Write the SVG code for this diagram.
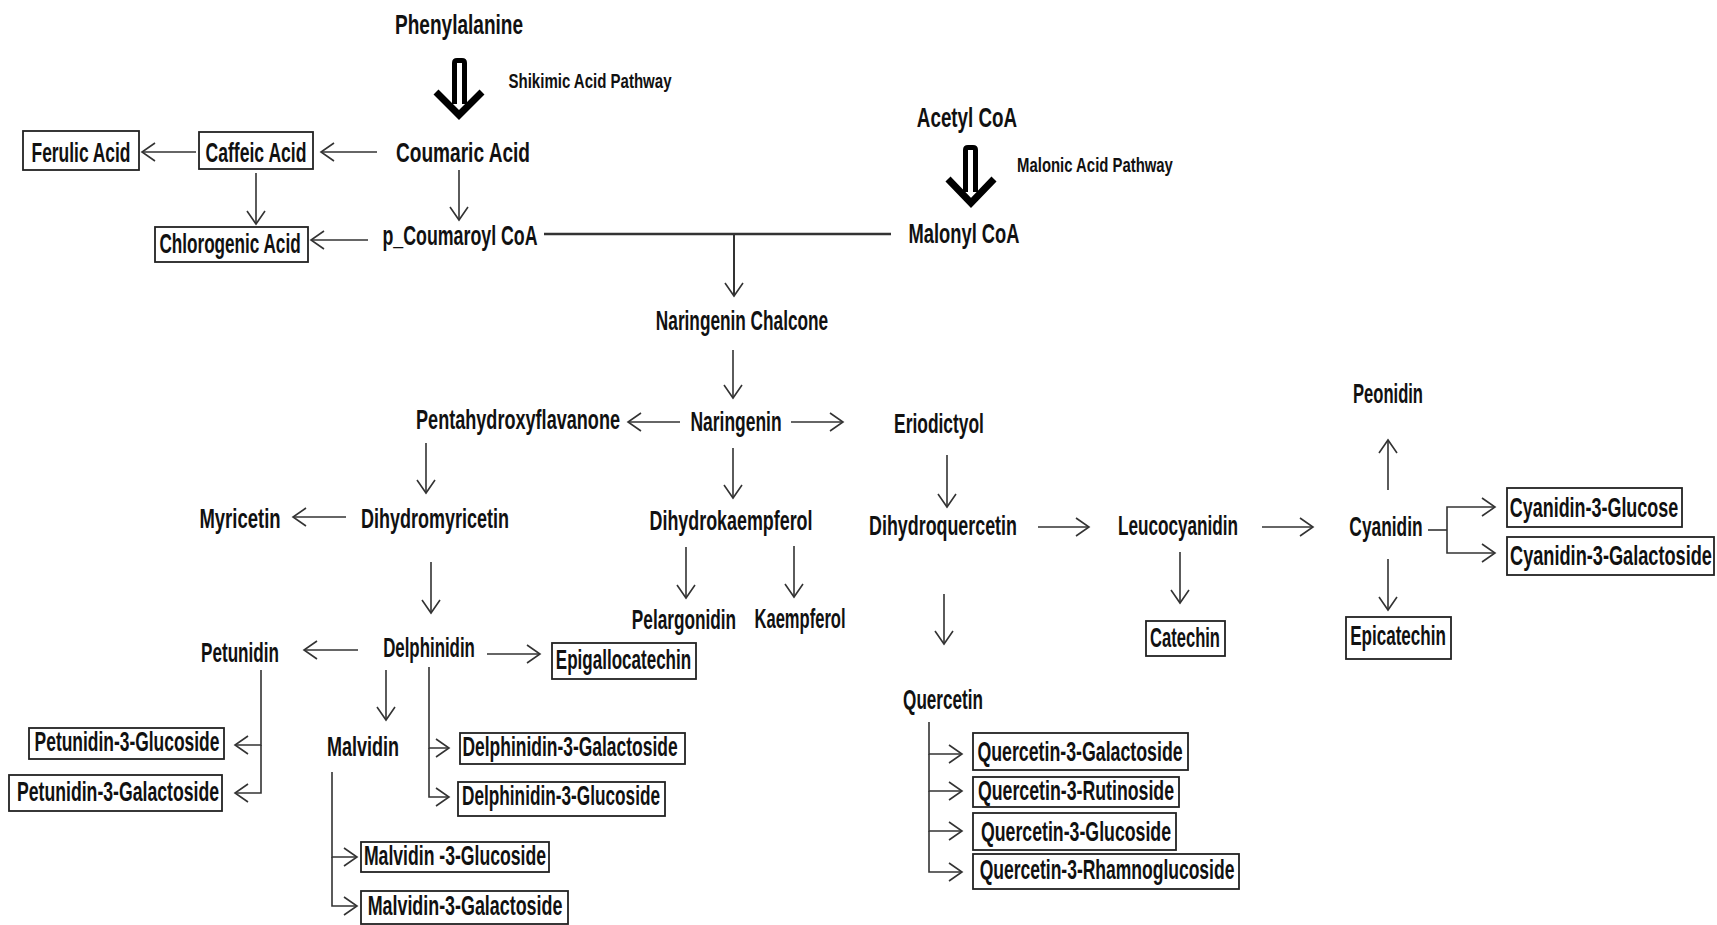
<svg xmlns="http://www.w3.org/2000/svg" width="1717" height="925" viewBox="0 0 1717 925">
<style>
.t{font-family:"Liberation Sans",Arial,sans-serif;font-weight:bold;font-size:28px;fill:#111;text-anchor:middle}
.s{font-size:20px}
.b{fill:#fff;stroke:#222;stroke-width:1.8}
.c{fill:none;stroke:#333;stroke-width:1.6}
.c path{marker-end:url(#ah)}
.thick{fill:none;stroke:#000;stroke-linecap:butt}
</style>
<defs>
<marker id="ah" viewBox="-15 -11 17 22" refX="0" refY="0" markerWidth="17" markerHeight="22" markerUnits="userSpaceOnUse" orient="auto">
<path d="M-13,-9 L0,0 L-13,9" fill="none" stroke="#333" stroke-width="1.6"/>
</marker>
</defs>
<rect width="1717" height="925" fill="#fff"/>

<g id="connectors" class="c">
<path d="M377,152 H321"/>
<path d="M196,152 H142"/>
<path d="M256,173 V224"/>
<path d="M459,170 V220"/>
<path d="M368,240 H311"/>
<path d="M544,234 H891" style="marker-end:none;stroke-width:2.6"/>
<path d="M734,234 V296" style="stroke-width:2"/>
<path d="M733,350 V398"/>
<path d="M680,422 H628"/>
<path d="M791,422 H843"/>
<path d="M733,448 V498"/>
<path d="M426,443 V493"/>
<path d="M346,517 H293"/>
<path d="M431,562 V613"/>
<path d="M686,547 V598"/>
<path d="M794,546 V597"/>
<path d="M358,650 H304"/>
<path d="M487,654 H540"/>
<path d="M386,670 V720"/>
<path d="M429,667 V748 H449"/>
<path d="M429,748 V797 H449"/>
<path d="M261,670 V745 H235"/>
<path d="M261,745 V793 H235"/>
<path d="M332,772 V857 H357"/>
<path d="M332,857 V906 H357"/>
<path d="M947,455 V507"/>
<path d="M1038,527 H1089"/>
<path d="M1262,527 H1313"/>
<path d="M1180,552 V603"/>
<path d="M1388,490 V440"/>
<path d="M1388,559 V610"/>
<path d="M1428,530 H1447" style="marker-end:none"/>
<path d="M1447,530 V507 H1495"/>
<path d="M1447,530 V553 H1495"/>
<path d="M944,594 V644"/>
<path d="M929,722 V754 H962"/>
<path d="M929,754 V791 H962"/>
<path d="M929,791 V831 H962"/>
<path d="M929,831 V872 H962"/>
</g>

<g id="shikimic-arrow" class="thick">
<path d="M454.5,104 V63 Q454.5,60.5 457,60.5 H462 Q464.5,60.5 464.5,63 V104" stroke-width="5"/>
<path d="M436,92 L459,115 L482,92" stroke-width="7"/>
</g>
<g id="malonic-arrow" class="thick">
<path d="M965.5,192 V150 Q965.5,147.5 968,147.5 H973 Q975.5,147.5 975.5,150 V192" stroke-width="5"/>
<path d="M948,179 L971,203 L994,179" stroke-width="7"/>
</g>

<g id="phenylalanine"><text class="t" transform="translate(459,34) scale(0.66,1)" textLength="194" lengthAdjust="spacingAndGlyphs">Phenylalanine</text></g>
<g id="shikimic-label"><text class="t s" transform="translate(590,88) scale(0.66,1)" textLength="247" lengthAdjust="spacingAndGlyphs">Shikimic Acid Pathway</text></g>
<g id="coumaric-acid"><text class="t" transform="translate(463,162) scale(0.66,1)" textLength="203" lengthAdjust="spacingAndGlyphs">Coumaric Acid</text></g>
<g id="caffeic-acid"><rect class="b" x="199" y="132" width="114" height="37"/><text class="t" transform="translate(256,162) scale(0.66,1)" textLength="153" lengthAdjust="spacingAndGlyphs">Caffeic Acid</text></g>
<g id="ferulic-acid"><rect class="b" x="23" y="131" width="116" height="39"/><text class="t" transform="translate(81,162) scale(0.66,1)" textLength="150" lengthAdjust="spacingAndGlyphs">Ferulic Acid</text></g>
<g id="chlorogenic-acid"><rect class="b" x="155" y="227" width="153" height="35"/><text class="t" transform="translate(230,253) scale(0.66,1)" textLength="214" lengthAdjust="spacingAndGlyphs">Chlorogenic Acid</text></g>
<g id="p-coumaroyl-coa"><text class="t" transform="translate(460,245) scale(0.66,1)" textLength="235" lengthAdjust="spacingAndGlyphs">p_Coumaroyl CoA</text></g>
<g id="acetyl-coa"><text class="t" transform="translate(967,127) scale(0.66,1)" textLength="152" lengthAdjust="spacingAndGlyphs">Acetyl CoA</text></g>
<g id="malonic-label"><text class="t s" transform="translate(1095,172) scale(0.66,1)" textLength="236" lengthAdjust="spacingAndGlyphs">Malonic Acid Pathway</text></g>
<g id="malonyl-coa"><text class="t" transform="translate(964,243) scale(0.66,1)" textLength="168" lengthAdjust="spacingAndGlyphs">Malonyl CoA</text></g>
<g id="naringenin-chalcone"><text class="t" transform="translate(742,330) scale(0.66,1)" textLength="261" lengthAdjust="spacingAndGlyphs">Naringenin Chalcone</text></g>
<g id="naringenin"><text class="t" transform="translate(736,431) scale(0.66,1)" textLength="138" lengthAdjust="spacingAndGlyphs">Naringenin</text></g>
<g id="pentahydroxyflavanone"><text class="t" transform="translate(518,429) scale(0.66,1)" textLength="309" lengthAdjust="spacingAndGlyphs">Pentahydroxyflavanone</text></g>
<g id="eriodictyol"><text class="t" transform="translate(939,433) scale(0.66,1)" textLength="136" lengthAdjust="spacingAndGlyphs">Eriodictyol</text></g>
<g id="dihydromyricetin"><text class="t" transform="translate(435,528) scale(0.66,1)" textLength="224" lengthAdjust="spacingAndGlyphs">Dihydromyricetin</text></g>
<g id="myricetin"><text class="t" transform="translate(240,528) scale(0.66,1)" textLength="123" lengthAdjust="spacingAndGlyphs">Myricetin</text></g>
<g id="dihydrokaempferol"><text class="t" transform="translate(731,530) scale(0.66,1)" textLength="247" lengthAdjust="spacingAndGlyphs">Dihydrokaempferol</text></g>
<g id="pelargonidin"><text class="t" transform="translate(684,629) scale(0.66,1)" textLength="158" lengthAdjust="spacingAndGlyphs">Pelargonidin</text></g>
<g id="kaempferol"><text class="t" transform="translate(800,628) scale(0.66,1)" textLength="138" lengthAdjust="spacingAndGlyphs">Kaempferol</text></g>
<g id="dihydroquercetin"><text class="t" transform="translate(943,535) scale(0.66,1)" textLength="224" lengthAdjust="spacingAndGlyphs">Dihydroquercetin</text></g>
<g id="leucocyanidin"><text class="t" transform="translate(1178,535) scale(0.66,1)" textLength="182" lengthAdjust="spacingAndGlyphs">Leucocyanidin</text></g>
<g id="cyanidin"><text class="t" transform="translate(1386,536) scale(0.66,1)" textLength="111" lengthAdjust="spacingAndGlyphs">Cyanidin</text></g>
<g id="peonidin"><text class="t" transform="translate(1388,403) scale(0.66,1)" textLength="106" lengthAdjust="spacingAndGlyphs">Peonidin</text></g>
<g id="catechin"><rect class="b" x="1146" y="621" width="79" height="35"/><text class="t" transform="translate(1185,647) scale(0.66,1)" textLength="106" lengthAdjust="spacingAndGlyphs">Catechin</text></g>
<g id="epicatechin"><rect class="b" x="1346" y="617" width="105" height="42"/><text class="t" transform="translate(1398,645) scale(0.66,1)" textLength="145" lengthAdjust="spacingAndGlyphs">Epicatechin</text></g>
<g id="cyanidin-3-glucose"><rect class="b" x="1507" y="488" width="175" height="39"/><text class="t" transform="translate(1594,517) scale(0.66,1)" textLength="255" lengthAdjust="spacingAndGlyphs">Cyanidin-3-Glucose</text></g>
<g id="cyanidin-3-galactoside"><rect class="b" x="1507" y="537" width="207" height="38"/><text class="t" transform="translate(1611,565) scale(0.66,1)" textLength="306" lengthAdjust="spacingAndGlyphs">Cyanidin-3-Galactoside</text></g>
<g id="petunidin"><text class="t" transform="translate(240,662) scale(0.66,1)" textLength="118" lengthAdjust="spacingAndGlyphs">Petunidin</text></g>
<g id="delphinidin"><text class="t" transform="translate(429,657) scale(0.66,1)" textLength="139" lengthAdjust="spacingAndGlyphs">Delphinidin</text></g>
<g id="epigallocatechin"><rect class="b" x="552" y="643" width="144" height="36"/><text class="t" transform="translate(623.5,669) scale(0.66,1)" textLength="205" lengthAdjust="spacingAndGlyphs">Epigallocatechin</text></g>
<g id="malvidin"><text class="t" transform="translate(363,756) scale(0.66,1)" textLength="109" lengthAdjust="spacingAndGlyphs">Malvidin</text></g>
<g id="petunidin-3-glucoside"><rect class="b" x="29" y="728" width="195" height="31"/><text class="t" transform="translate(127,751) scale(0.66,1)" textLength="280" lengthAdjust="spacingAndGlyphs">Petunidin-3-Glucoside</text></g>
<g id="petunidin-3-galactoside"><rect class="b" x="9" y="775" width="213" height="36"/><text class="t" transform="translate(118,801) scale(0.66,1)" textLength="306" lengthAdjust="spacingAndGlyphs">Petunidin-3-Galactoside</text></g>
<g id="delphinidin-3-galactoside"><rect class="b" x="460" y="733" width="225" height="31"/><text class="t" transform="translate(570,756) scale(0.66,1)" textLength="326" lengthAdjust="spacingAndGlyphs">Delphinidin-3-Galactoside</text></g>
<g id="delphinidin-3-glucoside"><rect class="b" x="458" y="782" width="207" height="34"/><text class="t" transform="translate(561,805) scale(0.66,1)" textLength="300" lengthAdjust="spacingAndGlyphs">Delphinidin-3-Glucoside</text></g>
<g id="malvidin-3-glucoside"><rect class="b" x="361" y="842" width="188" height="30"/><text class="t" transform="translate(455,865) scale(0.66,1)" textLength="276" lengthAdjust="spacingAndGlyphs">Malvidin -3-Glucoside</text></g>
<g id="malvidin-3-galactoside"><rect class="b" x="361" y="891" width="207" height="33"/><text class="t" transform="translate(465,915) scale(0.66,1)" textLength="295" lengthAdjust="spacingAndGlyphs">Malvidin-3-Galactoside</text></g>
<g id="quercetin"><text class="t" transform="translate(943,709) scale(0.66,1)" textLength="121" lengthAdjust="spacingAndGlyphs">Quercetin</text></g>
<g id="quercetin-3-galactoside"><rect class="b" x="973" y="733" width="215" height="37"/><text class="t" transform="translate(1080,761) scale(0.66,1)" textLength="311" lengthAdjust="spacingAndGlyphs">Quercetin-3-Galactoside</text></g>
<g id="quercetin-3-rutinoside"><rect class="b" x="973" y="777" width="206" height="30"/><text class="t" transform="translate(1076,800) scale(0.66,1)" textLength="297" lengthAdjust="spacingAndGlyphs">Quercetin-3-Rutinoside</text></g>
<g id="quercetin-3-glucoside"><rect class="b" x="973" y="813" width="203" height="37"/><text class="t" transform="translate(1076,841) scale(0.66,1)" textLength="288" lengthAdjust="spacingAndGlyphs">Quercetin-3-Glucoside</text></g>
<g id="quercetin-3-rhamnoglucoside"><rect class="b" x="973" y="854" width="266" height="35"/><text class="t" transform="translate(1107,879) scale(0.66,1)" textLength="386" lengthAdjust="spacingAndGlyphs">Quercetin-3-Rhamnoglucoside</text></g>
</svg>
